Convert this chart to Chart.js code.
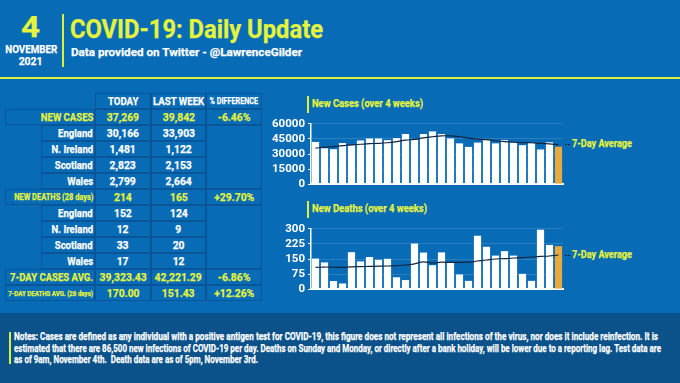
<!DOCTYPE html>
<html><head><meta charset="utf-8">
<script src="https://cdn.jsdelivr.net/npm/chart.js@4/dist/chart.umd.min.js"></script>
<style>
html,body{margin:0;padding:0;}
body{width:680px;height:383px;overflow:hidden;background:#086bb5;position:relative;font-family:Roboto,"Liberation Sans",sans-serif;font-weight:bold;color:#fff;}
.a{position:absolute;white-space:nowrap;}
.y{color:#e4f43c;}
.s{display:inline-block;white-space:nowrap;-webkit-text-stroke:0.25px currentColor;}
.cell{position:absolute;box-sizing:border-box;border:1px solid #0a5597;display:flex;align-items:center;justify-content:center;white-space:nowrap;}
.lab{justify-content:flex-end;padding-right:1px;}
</style></head>
<body>
<div class="a" style="left:0;top:313px;width:680px;height:70px;background:#0a5289;"></div>
<div class="a" style="left:0;top:77px;width:680px;height:2px;background:#dcef3a;"></div>
<div class="a y" style="left:0;width:62px;top:10px;text-align:center;font-size:30px;line-height:34px;"><span class="s" data-w="19" data-o="center">4</span></div>
<div class="a" style="left:0;width:62px;top:44px;text-align:center;font-size:11px;line-height:12px;"><span class="s" data-w="52" data-o="center">NOVEMBER</span></div>
<div class="a" style="left:0;width:62px;top:56px;text-align:center;font-size:11px;line-height:12px;"><span class="s" data-w="24" data-o="center">2021</span></div>
<div class="a" style="left:62px;top:14px;width:2px;height:53px;background:#dcef3a;"></div>
<div class="a y" style="left:70px;top:16px;font-size:25px;line-height:28px;"><span class="s" data-w="253" data-o="left">COVID-19: Daily Update</span></div>
<div class="a" style="left:71px;top:45px;font-size:11.5px;line-height:14px;"><span class="s" data-w="231" data-o="left">Data provided on Twitter - @LawrenceGilder</span></div>

<div id="table"></div>

<div class="a" style="left:307px;top:96px;width:2px;height:17px;background:#dcef3a;"></div>
<div class="a y" style="left:312px;top:97px;font-size:10.5px;line-height:14px;"><span class="s" data-w="111" data-o="left">New Cases (over 4 weeks)</span></div>
<div class="a" style="left:307px;top:201px;width:2px;height:17px;background:#dcef3a;"></div>
<div class="a y" style="left:312px;top:202px;font-size:10.5px;line-height:14px;"><span class="s" data-w="115" data-o="left">New Deaths (over 4 weeks)</span></div>

<div class="a" style="left:565px;top:144px;width:2px;height:1px;background:#13243f;"></div>
<div class="a" style="left:568px;top:144px;width:2px;height:1px;background:#13243f;"></div>
<div class="a y" style="left:572px;top:137px;font-size:11px;line-height:14px;"><span class="s" data-w="60" data-o="left">7-Day Average</span></div>
<div class="a" style="left:565px;top:255px;width:2px;height:1px;background:#13243f;"></div>
<div class="a" style="left:568px;top:255px;width:2px;height:1px;background:#13243f;"></div>
<div class="a y" style="left:572px;top:248px;font-size:11px;line-height:14px;"><span class="s" data-w="60" data-o="left">7-Day Average</span></div>

<div class="a" style="left:268px;top:114px;width:300px;height:80px;"><canvas id="c1" width="300" height="80"></canvas></div>
<div class="a" style="left:268px;top:219px;width:300px;height:80px;"><canvas id="c2" width="300" height="80"></canvas></div>

<div class="a" style="left:9px;top:332px;width:2px;height:32px;background:#dcef3a;"></div>
<div class="a" style="left:14px;top:331px;font-size:10px;line-height:12px;"><span class="s" data-w="644" data-o="left">Notes: Cases are defined as any individual with a positive antigen test for COVID-19, this figure does not represent all infections of the virus, nor does it include reinfection. It is</span></div>
<div class="a" style="left:14px;top:342.5px;font-size:10px;line-height:12px;"><span class="s" data-w="647" data-o="left">estimated that there are 86,500 new infections of COVID-19 per day. Deaths on Sunday and Monday, or directly after a bank holiday, will be lower due to a reporting lag. Test data are</span></div>
<div class="a" style="left:14px;top:354px;font-size:10px;line-height:12px;"><span class="s" data-w="244" data-o="left">as of 9am, November 4th.&nbsp; Death data are as of 5pm, November 3rd.</span></div>

<script>
const days = ["8 Oct","9 Oct","10 Oct","11 Oct","12 Oct","13 Oct","14 Oct","15 Oct","16 Oct","17 Oct","18 Oct","19 Oct","20 Oct","21 Oct","22 Oct","23 Oct","24 Oct","25 Oct","26 Oct","27 Oct","28 Oct","29 Oct","30 Oct","31 Oct","1 Nov","2 Nov","3 Nov","4 Nov"];
const newCases = [42000,35700,34800,40900,38800,43500,45500,45500,43800,45800,49900,44300,49900,52500,49900,45500,40600,37100,41400,44100,40600,43800,41700,38800,40900,34500,41700,37269];
const casesAvg = [35900,36800,37400,38300,39100,39700,40300,40600,41200,42300,43800,44600,46100,47200,48100,48100,47200,45800,44900,44300,43200,42300,41700,41400,41200,40600,40000,39323];
const newDeaths = [152,133,40,28,184,138,160,146,151,59,45,227,182,119,183,135,73,41,266,211,167,189,167,76,41,296,220,214];
const deathsAvg = [108,110,109,108,111,112,113,114,115,117,120,126,136,130,134,133,133,134,140,145,150,152,155,157,160,163,165,170];
const casesTicks = [0,15000,30000,45000,60000];
const deathsTicks = [0,75,150,225,300];

const tableHead = ["TODAY","LAST WEEK","% DIFFERENCE"];
const tableRows = [
  ["NEW CASES","37,269","39,842","-6.46%"],
  ["England","30,166","33,903"],
  ["N. Ireland","1,481","1,122"],
  ["Scotland","2,823","2,153"],
  ["Wales","2,799","2,664"],
  ["NEW DEATHS (28 days)","214","165","+29.70%"],
  ["England","152","124"],
  ["N. Ireland","12","9"],
  ["Scotland","33","20"],
  ["Wales","17","12"],
  ["7-DAY CASES AVG.","39,323.43","42,221.29","-6.86%"],
  ["7-DAY DEATHS AVG. (28 days)","170.00","151.43","+12.26%"]
];

// build table
(function(){
  const t = document.getElementById('table');
  const X = [5,41,95,151,206,262];
  const top0 = 93, rh = 16;
  function cell(x,y,w,h,txt,cls,fs,color,sc,orig){
    const d=document.createElement('div');
    d.className='cell '+(cls||'');
    d.style.left=x+'px';d.style.top=y+'px';d.style.width=w+'px';d.style.height=h+'px';
    d.style.fontSize=fs+'px'; if(color) d.style.color=color;
    const s=document.createElement('span'); s.className='s'; s.textContent=txt;
    s.style.transform='scaleX('+sc+')'; s.style.transformOrigin=orig||'center';
    d.appendChild(s); t.appendChild(d);
  }
  const Y='#e4f43c';
  tableHead.forEach((h,i)=>cell(X[2+i],top0,X[3+i]-X[2+i],rh,h,'',i==2?8.6:11.5,'#fff',0.84));
  const labSize={ "NEW CASES":11.5, "NEW DEATHS (28 days)":9, "7-DAY CASES AVG.":11.5, "7-DAY DEATHS AVG. (28 days)":7.4 };
  tableRows.forEach((r,i)=>{
    const y=top0+rh*(i+1);
    const main = r.length===4;
    const col = main?Y:'#fff';
    if(main) cell(X[0],y,X[2]-X[0],rh,r[0],'lab',labSize[r[0]],Y,0.83,'right');
    else cell(X[1],y,X[2]-X[1],rh,r[0],'lab',11.5,'#fff',0.83,'right');
    cell(X[2],y,X[3]-X[2],rh,r[1],'',11.5,col,0.9);
    cell(X[3],y,X[4]-X[3],rh,r[2],'',11.5,col,0.9);
    if(main) cell(X[4],y,X[5]-X[4],rh,r[3],'',11.5,Y,0.9);
  });
  cell(X[4],top0+rh*2,X[5]-X[4],rh*4,'','',12,'#fff',1);
  cell(X[4],top0+rh*7,X[5]-X[4],rh*4,'','',12,'#fff',1);
})();

// fit header / title texts horizontally to the reference widths
document.querySelectorAll('span[data-w]').forEach(s=>{
  const w = s.getBoundingClientRect().width;
  const k = parseFloat(s.dataset.w)/w;
  s.style.transform='scaleX('+k+')';
  s.style.transformOrigin=s.dataset.o||'left';
});

const FONT = "Roboto,'Liberation Sans',sans-serif";
function makeChart(id, bars, avg, ticks){
  const colors = bars.map((v,i)=> i===bars.length-1 ? '#e8a93e' : '#ffffff');
  return new Chart(document.getElementById(id), {
    data:{
      labels: days,
      datasets:[
        {type:'line', data:avg, borderColor:'#13243f', borderWidth:1.2, pointRadius:0, tension:0.4, order:0},
        {type:'bar', data:bars, backgroundColor:colors, barPercentage:0.8, categoryPercentage:1, order:1}
      ]
    },
    options:{
      responsive:false, animation:false, devicePixelRatio:1,
      layout:{padding:{top:7,bottom:4,right:5,left:0}},
      plugins:{legend:{display:false}, tooltip:{enabled:false}},
      scales:{
        x:{ticks:{display:false}, grid:{display:true,color:'rgba(0,0,0,0)',drawTicks:false},
           border:{display:true,color:'#ffffff',width:2},
           afterFit:(s)=>{s.height=0;}},
        y:{min:ticks[0],max:ticks[ticks.length-1],
           afterBuildTicks:(s)=>{s.ticks=ticks.map(v=>({value:v}));},
           ticks:{autoSkip:false,color:'#ffffff',padding:3,font:{family:FONT,size:11.5,weight:'bold'},callback:(v)=>String(v)},
           grid:{color:'rgba(255,255,255,0.14)',tickColor:'#ffffff',tickLength:3,lineWidth:1},
           border:{display:true,color:'#ffffff',width:1.5},
           afterFit:(s)=>{s.width=43;}}
      }
    }
  });
}
makeChart('c1', newCases, casesAvg, casesTicks);
makeChart('c2', newDeaths, deathsAvg, deathsTicks);
</script>
</body></html>
